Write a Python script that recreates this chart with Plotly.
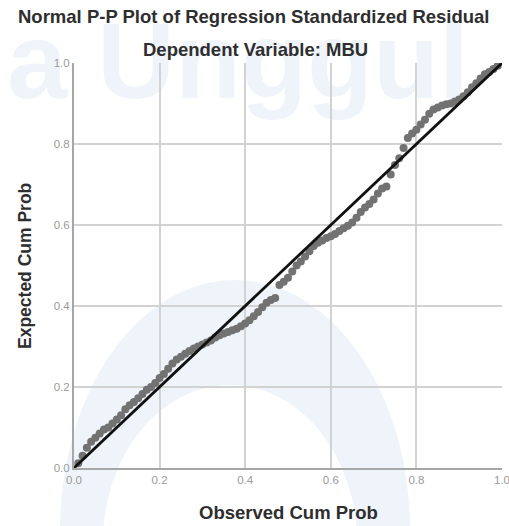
import plotly.graph_objects as go

observed = [0.01,0.02,0.03,0.04,0.05,0.06,0.07,0.08,0.09,0.10,0.11,0.12,0.13,0.14,0.15,0.16,0.17,0.18,0.19,0.20,
            0.21,0.22,0.23,0.24,0.25,0.26,0.27,0.28,0.29,0.30,0.31,0.32,0.33,0.34,0.35,0.36,0.37,0.38,0.39,0.40,
            0.41,0.42,0.43,0.44,0.45,0.46,0.47,0.48,0.49,0.50,0.51,0.52,0.53,0.54,0.55,0.56,0.57,0.58,0.59,0.60,
            0.61,0.62,0.63,0.64,0.65,0.66,0.67,0.68,0.69,0.70,0.71,0.72,0.73,0.74,0.75,0.76,0.77,0.78,0.79,0.80,
            0.81,0.82,0.83,0.84,0.85,0.86,0.87,0.88,0.89,0.90,0.91,0.92,0.93,0.94,0.95,0.96,0.97,0.98,0.99]
expected = [0.012,0.03,0.05,0.065,0.075,0.085,0.095,0.10,0.11,0.12,0.13,0.145,0.155,0.163,0.172,0.183,0.193,0.20,0.21,0.222,
            0.232,0.245,0.258,0.268,0.275,0.282,0.289,0.295,0.30,0.305,0.31,0.315,0.322,0.328,0.332,0.336,0.34,0.344,0.35,0.357,
            0.365,0.375,0.385,0.397,0.408,0.415,0.42,0.452,0.46,0.47,0.485,0.50,0.51,0.522,0.535,0.548,0.556,0.562,0.568,0.572,
            0.578,0.585,0.592,0.598,0.606,0.618,0.632,0.643,0.652,0.663,0.678,0.69,0.695,0.725,0.748,0.765,0.79,0.815,0.826,0.835,
            0.848,0.86,0.875,0.885,0.89,0.895,0.898,0.90,0.905,0.91,0.918,0.928,0.94,0.95,0.962,0.972,0.978,0.985,0.993]

ref_line = [0.0, 1.0]
tick_vals = [0.0, 0.2, 0.4, 0.6, 0.8, 1.0]
tick_text = ["0.0", "0.2", "0.4", "0.6", "0.8", "1.0"]

W, H = 509, 526
L, R, T, B = 74, 7, 63, 58
PW, PH = W - L - R, H - T - B


def px(xpix):
    return (xpix - L) / PW


def py(ypix):
    return (H - B - ypix) / PH


fig = go.Figure()
fig.add_trace(go.Scatter(x=observed, y=expected, mode="markers",
                         marker=dict(size=8, color="#727272", line=dict(width=0)),
                         showlegend=False, hoverinfo="skip"))
fig.add_trace(go.Scatter(x=ref_line, y=ref_line, mode="lines",
                         line=dict(color="#111111", width=2.8),
                         showlegend=False, hoverinfo="skip"))

font_main = "Liberation Sans, Arial, sans-serif"
axis_common = dict(range=[0, 1], tickvals=tick_vals, ticktext=tick_text,
                   showgrid=True, gridcolor="#d2d2d2", gridwidth=1.6,
                   zeroline=False, showline=True, linecolor="#a6a6a6", linewidth=2,
                   ticks="", tickfont=dict(family=font_main, size=11.5, color="#9a9a9a"),
                   ticklabeloverflow="allow",
                   automargin=False, fixedrange=True)

wm = "#eff4fb"
shapes = [
    # watermark ring (approximate)
    dict(type="circle", xref="paper", yref="paper", layer="below",
         x0=px(60), x1=px(410), y0=py(780), y1=py(280),
         fillcolor=wm, line=dict(width=0)),
    dict(type="circle", xref="paper", yref="paper", layer="below",
         x0=px(103), x1=px(357), y0=py(700), y1=py(385),
         fillcolor="white", line=dict(width=0)),
    # watermark text
    dict(type="rect", xref="paper", yref="paper", layer="below",
         x0=px(4), x1=px(620), y0=py(96), y1=py(4),
         fillcolor="rgba(0,0,0,0)", line=dict(width=0),
         label=dict(text="a Unggul", textposition="middle left", padding=0,
                    font=dict(family=font_main, size=108, color=wm, weight="bold"))),
]

fig.update_layout(
    width=W, height=H,
    margin=dict(l=L, r=R, t=T, b=B, autoexpand=False),
    paper_bgcolor="white", plot_bgcolor="rgba(0,0,0,0)",
    xaxis=dict(**axis_common),
    yaxis=dict(**axis_common),
    shapes=shapes,
    annotations=[
        dict(text="<b>Normal P-P Plot of Regression Standardized Residual</b>", xref="paper", yref="paper",
             x=px(254), y=py(17), xanchor="center", yanchor="middle", showarrow=False,
             font=dict(family=font_main, size=18.5, color="#2e2e2e")),
        dict(text="<b>Dependent Variable: MBU</b>", xref="paper", yref="paper",
             x=px(255), y=py(49), xanchor="center", yanchor="middle", showarrow=False,
             font=dict(family=font_main, size=18.5, color="#2e2e2e")),
        dict(text="<b>Observed Cum Prob</b>", xref="paper", yref="paper",
             x=px(288), y=py(512), xanchor="center", yanchor="middle", showarrow=False,
             font=dict(family=font_main, size=18.5, color="#2e2e2e")),
        dict(text="<b>Expected Cum Prob</b>", xref="paper", yref="paper",
             x=px(25), y=py(266), xanchor="center", yanchor="middle", showarrow=False, textangle=-90,
             font=dict(family=font_main, size=17.5, color="#2e2e2e")),
    ],
)

fig.write_html("out.html", config={"displayModeBar": False},
               post_script="document.body.style.margin='0';document.body.style.overflow='hidden';")
